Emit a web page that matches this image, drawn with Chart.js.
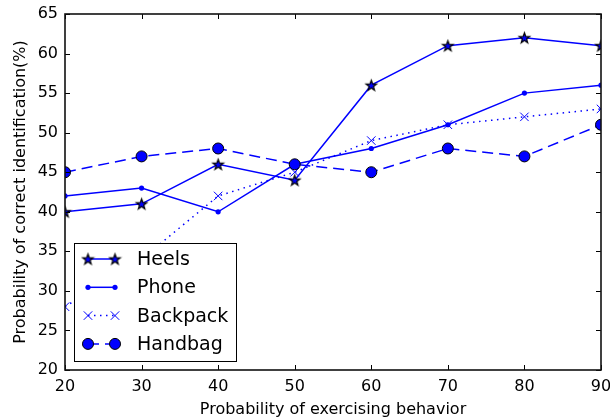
<!DOCTYPE html>
<html>
<head>
<meta charset="utf-8">
<title>Probability of correct identification</title>
<script src="https://cdn.jsdelivr.net/npm/chart.js@4.4.0/dist/chart.umd.min.js"></script>
<style>
	html, body { margin: 0; padding: 0; background: #fff; }
	#wrap { width: 610px; height: 419px; position: relative; }
</style>
</head>
<body>
<div id="wrap"><canvas id="myChart"></canvas></div>
<script>
// values
const behavior = [20, 30, 40, 50, 60, 70, 80, 90];
const heels = [40, 41, 46, 44, 56, 61, 62, 61];
const phone = [42, 43, 40, 46, 48, 51, 55, 56];
const backpack = [28, 34, 42, 45, 49, 51, 52, 53];
const handbag = [45, 47, 48, 46, 45, 48, 47, 51];

const xTicks = [20, 30, 40, 50, 60, 70, 80, 90];
const yTicks = [20, 25, 30, 35, 40, 45, 50, 55, 60, 65];

const BLUE = '#0000ff';

Chart.defaults.font.family = '"DejaVu Sans", sans-serif';
Chart.defaults.color = '#000';

// filled 5 point star used as marker for Heels
function makeStar(r) {
	const size = Math.ceil(r * 2 + 4);
	const c = document.createElement('canvas');
	c.width = size; c.height = size;
	const g = c.getContext('2d');
	const cx = size / 2, cy = size / 2 + 0.5;
	g.beginPath();
	for (let i = 0; i < 10; i++) {
		const rad = i % 2 == 0 ? r : r * 0.4;
		const a = -Math.PI / 2 + i * Math.PI / 5;
		g.lineTo(cx + rad * Math.cos(a), cy + rad * Math.sin(a));
	}
	g.closePath();
	g.fillStyle = BLUE;
	g.fill();
	g.strokeStyle = '#000';
	g.lineWidth = 1.2;
	g.stroke();
	return c;
}
const star = makeStar(5.5);

function pts(arr) {
	return arr.map((v, i) => ({x: behavior[i], y: v}));
}

// clip lines and markers to the axes box
const clipPlugin = {
	id: 'clipBox',
	beforeDatasetsDraw(chart) {
		const a = chart.chartArea;
		chart.ctx.save();
		chart.ctx.beginPath();
		chart.ctx.rect(a.left, a.top, a.right - a.left, a.bottom - a.top);
		chart.ctx.clip();
	},
	afterDatasetsDraw(chart) {
		chart.ctx.restore();
	}
};

// frame with inward ticks (matplotlib classic look)
const framePlugin = {
	id: 'frame',
	afterDraw(chart) {
		const ctx = chart.ctx;
		const a = chart.chartArea;
		const xs = chart.scales.x, ys = chart.scales.y;
		ctx.save();
		ctx.strokeStyle = '#000';
		ctx.lineWidth = 1;
		ctx.beginPath();
		xTicks.forEach(function(t) {
			const px = Math.round(xs.getPixelForValue(t)) + 0.5;
			ctx.moveTo(px, a.bottom); ctx.lineTo(px, a.bottom - 5);
			ctx.moveTo(px, a.top); ctx.lineTo(px, a.top + 5);
		});
		yTicks.forEach(function(t) {
			const py = Math.round(ys.getPixelForValue(t)) + 0.5;
			ctx.moveTo(a.left, py); ctx.lineTo(a.left + 5, py);
			ctx.moveTo(a.right, py); ctx.lineTo(a.right - 5, py);
		});
		ctx.stroke();
		ctx.lineWidth = 1.6;
		ctx.strokeStyle = '#111';
		ctx.strokeRect(a.left, a.top, a.right - a.left, a.bottom - a.top);
		ctx.restore();
	}
};

function drawMarker(ctx, ds, x, y) {
	if (ds.pointStyle instanceof HTMLCanvasElement) {
		ctx.drawImage(ds.pointStyle, x - ds.pointStyle.width / 2, y - ds.pointStyle.height / 2);
		return;
	}
	ctx.save();
	ctx.setLineDash([]);
	ctx.fillStyle = ds.pointBackgroundColor;
	ctx.strokeStyle = ds.pointBorderColor;
	ctx.lineWidth = ds.pointBorderWidth;
	const r = ds.pointRadius;
	ctx.beginPath();
	if (ds.pointStyle == 'crossRot') {
		const o = r * Math.SQRT1_2;
		ctx.moveTo(x - o, y - o); ctx.lineTo(x + o, y + o);
		ctx.moveTo(x - o, y + o); ctx.lineTo(x + o, y - o);
		ctx.stroke();
	} else {
		ctx.arc(x, y, r, 0, Math.PI * 2);
		ctx.fill();
		if (ds.pointBorderWidth > 0) ctx.stroke();
	}
	ctx.restore();
}

// legend box inside the plot, two markers per entry
const legendPlugin = {
	id: 'boxLegend',
	afterDraw(chart) {
		const ctx = chart.ctx;
		const left = 74, top = 243, w = 162, h = 118;
		ctx.save();
		ctx.fillStyle = '#fff';
		ctx.fillRect(left, top, w, h);
		ctx.strokeStyle = '#000';
		ctx.lineWidth = 1;
		ctx.strokeRect(left + 0.5, top + 0.5, w, h);
		chart.data.datasets.forEach(function(ds, i) {
			const y = top + 16 + i * 28.3;
			const x1 = 88, x2 = 115;
			ctx.save();
			ctx.strokeStyle = ds.borderColor;
			ctx.lineWidth = ds.borderWidth;
			ctx.setLineDash(ds.borderDash || []);
			ctx.beginPath();
			ctx.moveTo(x1, y); ctx.lineTo(x2, y);
			ctx.stroke();
			ctx.restore();
			drawMarker(ctx, ds, x1, y);
			drawMarker(ctx, ds, x2, y);
			ctx.fillStyle = '#000';
			ctx.font = '19px "DejaVu Sans", sans-serif';
			ctx.textBaseline = 'middle';
			ctx.textAlign = 'left';
			ctx.fillText(ds.label, 137, y + 1);
		});
		ctx.restore();
	}
};

new Chart(document.getElementById('myChart').getContext('2d'), {
	type: 'line',
	plugins: [clipPlugin, framePlugin, legendPlugin],
	data: {
		datasets: [{
			label: 'Heels',
			data: pts(heels),
			borderColor: BLUE,
			borderWidth: 1.5,
			pointStyle: star,
			pointRadius: 5,
			order: 4
		}, {
			label: 'Phone',
			data: pts(phone),
			borderColor: BLUE,
			borderWidth: 1.5,
			pointStyle: 'circle',
			pointRadius: 2.6,
			pointBackgroundColor: BLUE,
			pointBorderColor: BLUE,
			pointBorderWidth: 0,
			order: 3
		}, {
			label: 'Backpack',
			data: pts(backpack),
			borderColor: BLUE,
			borderWidth: 1.5,
			borderDash: [1.5, 4.5],
			pointStyle: 'crossRot',
			pointRadius: 6,
			pointBackgroundColor: BLUE,
			pointBorderColor: BLUE,
			pointBorderWidth: 1,
			order: 2
		}, {
			label: 'Handbag',
			data: pts(handbag),
			borderColor: BLUE,
			borderWidth: 1.5,
			borderDash: [11, 6],
			pointStyle: 'circle',
			pointRadius: 5.5,
			pointBackgroundColor: BLUE,
			pointBorderColor: '#000',
			pointBorderWidth: 1,
			order: 1
		}]
	},
	options: {
		responsive: true,
		maintainAspectRatio: false,
		animation: false,
		layout: { padding: { top: 14, right: 9, left: 0, bottom: 0 } },
		plugins: {
			legend: { display: false },
			tooltip: { enabled: false }
		},
		elements: { line: { tension: 0, fill: false } },
		scales: {
			x: {
				type: 'linear',
				min: 20,
				max: 90,
				afterBuildTicks: function(scale) { scale.ticks = xTicks.map(v => ({value: v})); },
				afterFit: function(scale) {
					scale.height = 49;
					scale.paddingLeft = 0;
					scale.paddingRight = 0;
				},
				grid: { display: false, drawTicks: false },
				border: { display: false },
				ticks: { font: { size: 16 }, padding: 7, maxRotation: 0, color: '#000' },
				title: { display: true, text: 'Probability of exercising behavior', font: { size: 16 }, color: '#000', padding: { top: 0, bottom: 0 } }
			},
			y: {
				type: 'linear',
				min: 20,
				max: 65,
				afterBuildTicks: function(scale) { scale.ticks = yTicks.map(v => ({value: v})); },
				afterFit: function(scale) {
					scale.width = 65;
					scale.paddingTop = 0;
					scale.paddingBottom = 0;
				},
				grid: { display: false, drawTicks: false },
				border: { display: false },
				ticks: { font: { size: 16 }, padding: 7, color: '#000' },
				title: { display: true, text: 'Probability of correct identification(%)', font: { size: 16 }, color: '#000', padding: { top: 11, bottom: 0 } }
			}
		}
	}
});
</script>
</body>
</html>
